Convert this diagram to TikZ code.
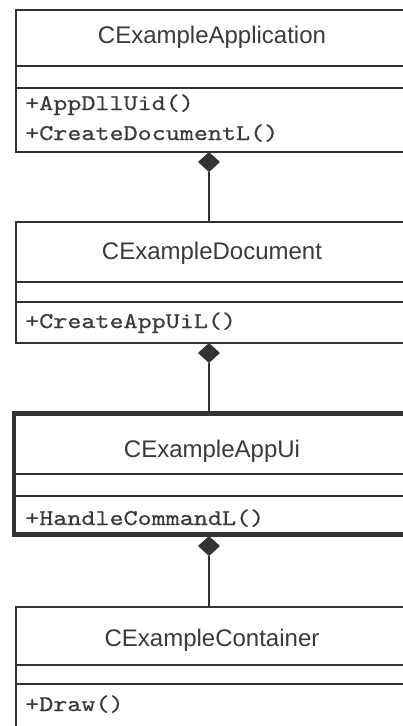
\documentclass[tikz,border=0pt]{standalone}
\usepackage{fontspec}
\setmainfont{Liberation Sans}
\newfontfamily\codefont[FakeStretch=1.19,FakeBold=0.6]{lmmono10-regular.otf}
\usetikzlibrary{shapes.geometric}
\definecolor{ink}{HTML}{333333}
\definecolor{txt}{HTML}{3A3A3A}
\tikzset{
  classbox/.style={draw=ink, line width=1.4pt, rectangle, anchor=north west,
    inner sep=0pt, outer sep=0pt, minimum width=394pt},
  thickbox/.style={classbox, line width=4.5pt, minimum width=396pt},
  sepline/.style={draw=ink, line width=1.4pt},
  title/.style={anchor=base, inner sep=0pt, text=txt, font=\fontsize{24}{28}\selectfont},
  method/.style={anchor=base west, inner sep=0pt, text=txt, font=\codefont\fontsize{22.5}{27}\selectfont},
  compose/.style={diamond, fill=ink, draw=none, inner sep=0pt, outer sep=0pt,
    minimum width=22pt, minimum height=20pt, anchor=north},
  link/.style={draw=ink, line width=1.4pt}
}
\begin{document}
\begin{tikzpicture}[x=1pt,y=-1pt]
\useasboundingbox (0,0) rectangle (402,726);
\fill[white] (0,0) rectangle (402,726);

% class boxes (their right sides run past the page edge)
\node[classbox, minimum height=142pt] (app) at (16,10) {};
\node[classbox, minimum height=121pt] (doc) at (16,222) {};
\node[thickbox, minimum height=121pt] (ui) at (14,413.5) {};
\node[classbox, minimum height=140pt] (cont) at (16,607) {};

% compartment separators
\draw[sepline] (app.west |- 0,66) -- (app.east |- 0,66);
\draw[sepline] (app.west |- 0,88) -- (app.east |- 0,88);
\draw[sepline] (doc.west |- 0,282) -- (doc.east |- 0,282);
\draw[sepline] (doc.west |- 0,302) -- (doc.east |- 0,302);
\draw[sepline] (ui.west |- 0,474) -- (ui.east |- 0,474);
\draw[sepline] (ui.west |- 0,496) -- (ui.east |- 0,496);
\draw[sepline] (cont.west |- 0,665) -- (cont.east |- 0,665);
\draw[sepline] (cont.west |- 0,684) -- (cont.east |- 0,684);

% class names
\node[title] (appname) at (212,43) {CExampleApplication};
\node[title] (docname) at (212,259) {CExampleDocument};
\node[title] (uiname) at (212,457) {CExampleAppUi};
\node[title] (contname) at (212,646) {CExampleContainer};

% operations
\node[method] (m1) at (25,110) {+AppDllUid()};
\node[method] (m2) at (25,140) {+CreateDocumentL()};
\node[method] (m3) at (25,328) {+CreateAppUiL()};
\node[method] (m4) at (25,525) {+HandleCommandL()};
\node[method] (m5) at (25,711) {+Draw()};

% composition links
\node[compose] (d1) at (app.south -| 209,0) {};
\node[compose] (d2) at (doc.south -| 209,0) {};
\node[compose] (d3) at ([yshift=-1.5pt]ui.south -| 209,0) {};
\draw[link] (d1.south) -- (d1.south |- doc.north);
\draw[link] (d2.south) -- (d2.south |- ui.north);
\draw[link] (d3.south) -- (d3.south |- cont.north);
\end{tikzpicture}
\end{document}
